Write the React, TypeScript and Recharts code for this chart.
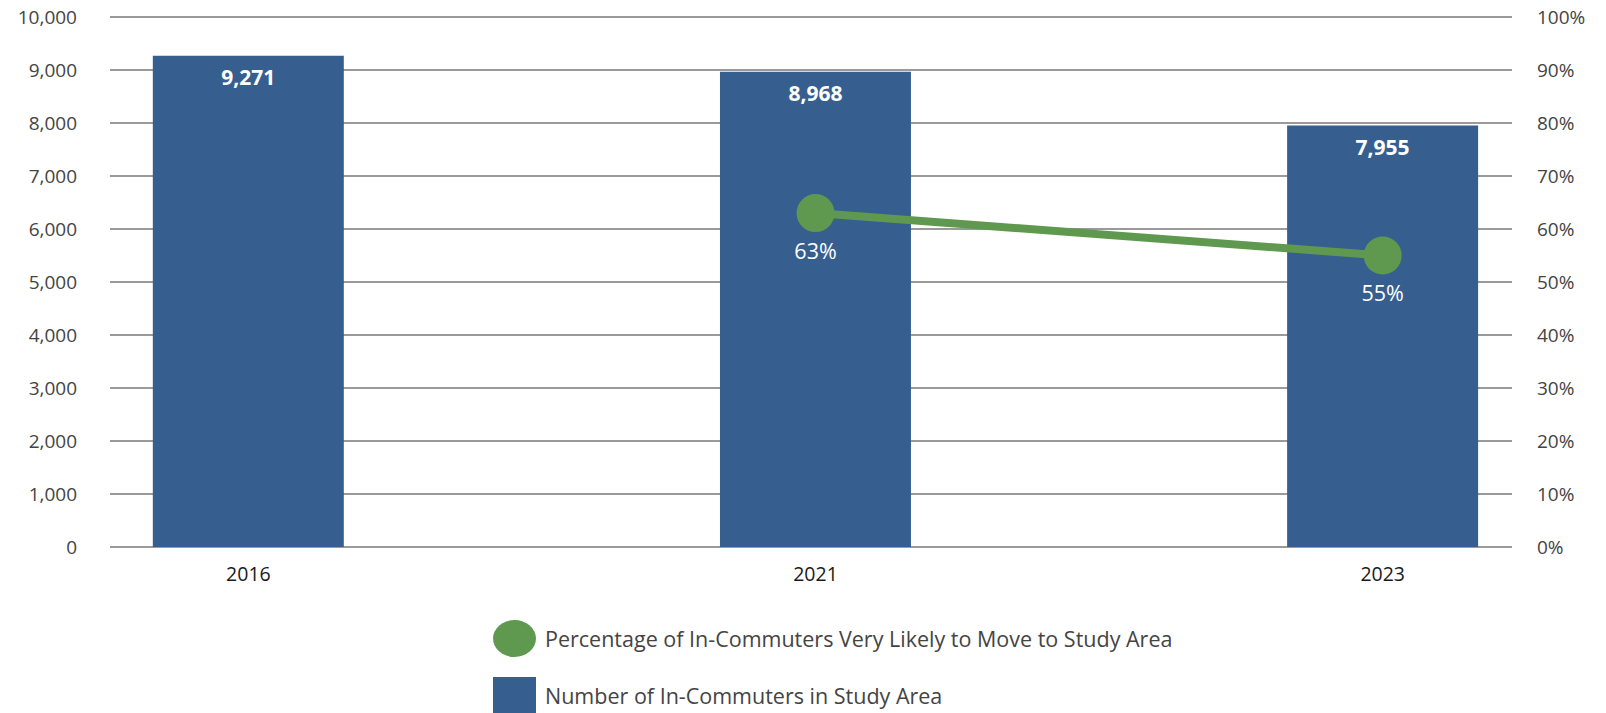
import React from 'react';
import {
  ComposedChart,
  Bar,
  Line,
  XAxis,
  YAxis,
  CartesianGrid,
  LabelList,
} from 'recharts';

const YEARS = ['2016', '2021', '2023'];
const IN_COMMUTERS = [9271, 8968, 7955];
const PCT_VERY_LIKELY: (number | null)[] = [null, 63, 55];
const LEFT_TICKS = [0, 1000, 2000, 3000, 4000, 5000, 6000, 7000, 8000, 9000, 10000];
const RIGHT_TICKS = [0, 10, 20, 30, 40, 50, 60, 70, 80, 90, 100];

const BLUE = '#365f8f';
const GREEN = '#5f994f';
const FONT = '"Open Sans", "Noto Sans", sans-serif';

const data = YEARS.map((year, i) => ({
  idx: i,
  year,
  count: IN_COMMUTERS[i],
  pct: PCT_VERY_LIKELY[i],
}));

const BarValueLabel = (props: any) => {
  const { x, y, width, value } = props;
  return (
    <text
      x={x + width / 2}
      y={y + 21.5}
      fill="#fff"
      fontSize={21}
      fontWeight={700}
      fontFamily={FONT}
      textAnchor="middle"
      dominantBaseline="central"
    >
      {Number(value).toLocaleString('en-US')}
    </text>
  );
};

const PctLabel = (props: any) => {
  const { x, y, value } = props;
  if (value == null) return null;
  return (
    <text
      x={x}
      y={y + 37}
      fill="#fff"
      fontSize={21.5}
      fontFamily={FONT}
      textAnchor="middle"
      dominantBaseline="central"
    >
      {value}%
    </text>
  );
};

export default function App() {
  return (
    <div
      style={{
        position: 'absolute',
        left: 0,
        top: 0,
        width: 1606,
        height: 713,
        background: '#fff',
        fontFamily: FONT,
      }}
    >
      <ComposedChart
        width={1606}
        height={600}
        data={data}
        margin={{ top: 17, right: 0, bottom: 0, left: 0 }}
      >
        <CartesianGrid
          yAxisId="left"
          vertical={false}
          stroke="#9a9a9a"
          strokeWidth={2}
        />
        <XAxis
          dataKey="idx"
          type="number"
          domain={[-0.244, 2.228]}
          allowDataOverflow
          ticks={[0, 1, 2]}
          tickFormatter={(i: number) => YEARS[i]}
          axisLine={false}
          tickLine={false}
          tickSize={0}
          tickMargin={20}
          height={53}
          tick={{ fill: '#1a1a1a', fontSize: 19.5, fontFamily: FONT }}
        />
        <YAxis
          yAxisId="left"
          domain={[0, 10000]}
          ticks={LEFT_TICKS}
          tickFormatter={(v: number) => v.toLocaleString('en-US')}
          axisLine={false}
          tickLine={false}
          tickSize={0}
          tickMargin={33}
          width={110}
          tick={{ fill: '#444', fontSize: 19, fontFamily: FONT }}
        />
        <YAxis
          yAxisId="right"
          orientation="right"
          domain={[0, 100]}
          ticks={RIGHT_TICKS}
          tickFormatter={(v: number) => `${v}%`}
          axisLine={false}
          tickLine={false}
          tickSize={0}
          tickMargin={25}
          width={94}
          tick={{ fill: '#444', fontSize: 19, fontFamily: FONT, textAnchor: 'start' }}
        />
        <Bar
          yAxisId="left"
          dataKey="count"
          fill={BLUE}
          barSize={191}
          isAnimationActive={false}
        >
          <LabelList dataKey="count" content={BarValueLabel} />
        </Bar>
        <Line
          yAxisId="right"
          dataKey="pct"
          stroke={GREEN}
          strokeWidth={8}
          dot={{ r: 19, fill: GREEN, stroke: 'none' }}
          activeDot={false}
          isAnimationActive={false}
        >
          <LabelList dataKey="pct" content={PctLabel} />
        </Line>
      </ComposedChart>

      <div style={{ position: 'absolute', left: 493, top: 620, height: 37, display: 'flex', alignItems: 'center' }}>
        <span
          style={{
            display: 'inline-block',
            width: 43,
            height: 37,
            borderRadius: '50%',
            background: GREEN,
          }}
        />
        <span style={{ marginLeft: 9, fontSize: 21.5, color: '#444', whiteSpace: 'nowrap' }}>
          Percentage of In-Commuters Very Likely to Move to Study Area
        </span>
      </div>
      <div style={{ position: 'absolute', left: 493, top: 677, height: 36, display: 'flex', alignItems: 'center' }}>
        <span
          style={{
            display: 'inline-block',
            width: 43,
            height: 36,
            background: BLUE,
          }}
        />
        <span style={{ marginLeft: 9, fontSize: 21.5, color: '#444', whiteSpace: 'nowrap' }}>
          Number of In-Commuters in Study Area
        </span>
      </div>
    </div>
  );
}
